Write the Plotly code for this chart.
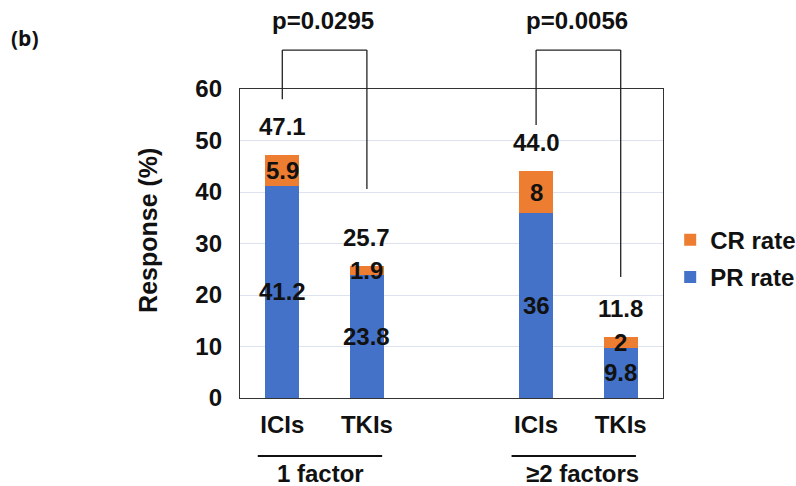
import plotly.graph_objects as go

# ---- data ----
groups = ["1 factor", "≥2 factors"]
treatments = ["ICIs", "TKIs"]
pr_rate = [41.2, 23.8, 36, 9.8]
cr_rate = [5.9, 1.9, 8, 2]
pr_labels = ["41.2", "23.8", "36", "9.8"]
cr_labels = ["5.9", "1.9", "8", "2"]
total_labels = ["47.1", "25.7", "44.0", "11.8"]
p_values = ["p=0.0295", "p=0.0056"]
y_ticks = [0, 10, 20, 30, 40, 50, 60]

# categories (with an empty slot between the two groups)
cats = [f"{g}|{t}" for g in groups[:1] for t in treatments] + ["gap"] + \
       [f"{g}|{t}" for g in groups[1:] for t in treatments]
bar_cats = [c for c in cats if c != "gap"]
bar_idx = [cats.index(c) for c in bar_cats]

FONT = "Liberation Sans, Arial, sans-serif"
BOLD = dict(family=FONT, size=24, color="#111", weight="bold")
BLUE = "#4472C8"
ORANGE = "#ED7D31"

fig = go.Figure()
fig.add_trace(go.Bar(x=bar_cats, y=pr_rate, name="PR rate", marker_color=BLUE,
                     marker_line_width=0, width=0.4, legendgroup="pr", legendrank=2))
fig.add_trace(go.Bar(x=bar_cats, y=cr_rate, name="CR rate", marker_color=ORANGE,
                     marker_line_width=0, width=0.4, legendgroup="cr", legendrank=1))

ann = []
# segment labels
for c, p, cr, pl, cl, tl in zip(bar_cats, pr_rate, cr_rate, pr_labels, cr_labels, total_labels):
    ann.append(dict(x=c, y=p / 2, text=pl, showarrow=False, xref="x", yref="y", font=BOLD))
    ann.append(dict(x=c, y=p + cr / 2, text=cl, showarrow=False, xref="x", yref="y", font=BOLD))
    ann.append(dict(x=c, y=p + cr, text=tl, showarrow=False, xref="x", yref="y",
                    yanchor="bottom", yshift=13, font=BOLD))

# brackets with p-values
bracket_top = 1.126
bracket_ends = [(58, 40.6), (53, 23.5)]
shapes = []
for gi, (pv, (yl, yr)) in enumerate(zip(p_values, bracket_ends)):
    xl = bar_idx[2 * gi]
    xr = bar_idx[2 * gi + 1]
    shapes.append(dict(type="line", xref="x", yref="paper", x0=xl, x1=xl,
                       y0=bracket_top, y1=yl / 60, line=dict(color="#222", width=1.3)))
    shapes.append(dict(type="line", xref="x", yref="paper", x0=xr, x1=xr,
                       y0=bracket_top, y1=yr / 60, line=dict(color="#222", width=1.3)))
    shapes.append(dict(type="line", xref="x", yref="paper", x0=xl, x1=xr,
                       y0=bracket_top, y1=bracket_top, line=dict(color="#222", width=1.3)))
    ann.append(dict(x=(xl + xr) / 2 - 0.02, y=1.223, xref="x", yref="paper", text=pv,
                    xanchor="center", yanchor="middle", showarrow=False, font=BOLD))
    # group underline + label
    shapes.append(dict(type="line", xref="x", yref="paper", x0=xl - 0.29, x1=xr + 0.18,
                       y0=-0.188, y1=-0.188, line=dict(color="#111", width=2)))
    ann.append(dict(x=(xl + xr) / 2 - 0.05 + 0.1 * gi, y=-0.245, xref="x", yref="paper",
                    xanchor="center", yanchor="middle",
                    text=groups[gi], showarrow=False, font=BOLD))

# y-axis title and panel label
ann.append(dict(x=-0.2175, y=0.544, xref="paper", yref="paper", text="Response (%)",
                xanchor="center", yanchor="middle",
                textangle=-90, showarrow=False, font=dict(BOLD, size=25)))
ann.append(dict(x=(25 - 240) / 423, y=(398 - 38) / 309, xref="paper", yref="paper",
                text="(b)", showarrow=False, xanchor="center", yanchor="middle",
                font=dict(family="Open Sans, sans-serif", size=21, color="#111", weight="bold")))

fig.update_layout(
    width=796, height=486,
    margin=dict(l=240, r=133, t=89, b=88, autoexpand=False),
    barmode="stack",
    plot_bgcolor="white", paper_bgcolor="white",
    font=BOLD,
    showlegend=True,
    legend=dict(x=1.017, y=0.451, xanchor="left", yanchor="middle",
                traceorder="grouped", tracegroupgap=3, font=BOLD, itemwidth=30,
                bgcolor="rgba(0,0,0,0)"),
    annotations=ann,
    shapes=shapes,
)
fig.update_xaxes(type="category", categoryorder="array", categoryarray=cats,
                 tickvals=bar_cats, ticktext=treatments * 2, range=[-0.5, 4.5],
                 showline=True, mirror=True, linecolor="#333", linewidth=1.3,
                 showgrid=False, ticks="", ticklabelstandoff=5, tickfont=BOLD)
fig.update_yaxes(range=[0, 60], tickvals=y_ticks, showline=True, mirror=True,
                 linecolor="#333", linewidth=1.3, gridcolor="#DCE3EE", gridwidth=1,
                 ticks="", ticklabelstandoff=12, tickfont=BOLD, zeroline=False)

fig.write_html("out.html", config={"displayModeBar": False},
               post_script="document.body.style.margin='0';")
